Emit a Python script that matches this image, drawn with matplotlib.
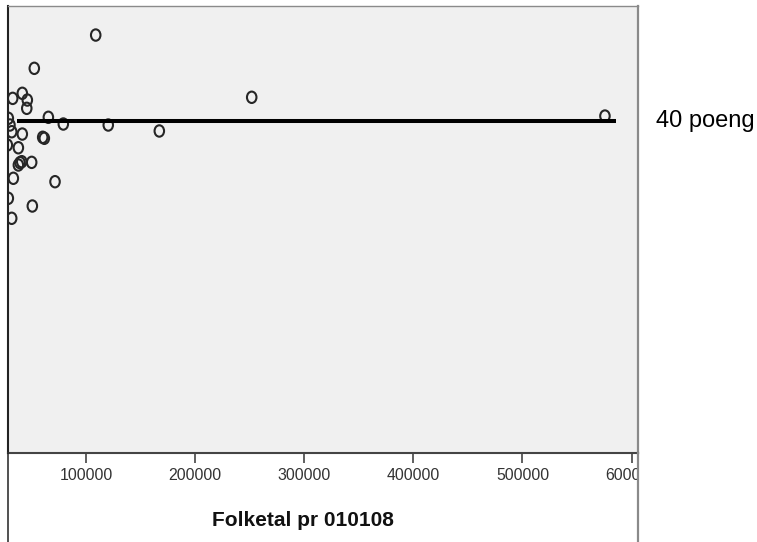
"""Scatter of score vs population (Folketal pr 010108) with a 40-point reference line."""
import matplotlib
matplotlib.use("Agg")
import matplotlib.pyplot as plt
from matplotlib.lines import Line2D
from matplotlib.path import Path
from matplotlib.transforms import Affine2D, Bbox, TransformedBbox, blended_transform_factory

# ---- data ------------------------------------------------------------------
POP = [108800, 52500, 32700, 41500, 46100, 45600, 65400, 79100, 120300, 167100,
       251800, 575600, 28700, 30200, 31800, 41500, 60200, 61700, 27800, 37900,
       37900, 41000, 39400, 50100, 33300, 71500, 28700, 50700, 31800]
SCORE = [50.36, 46.35, 42.73, 43.34, 42.53, 41.53, 40.45, 39.64, 39.52, 38.80,
         42.86, 40.60, 40.33, 39.52, 38.71, 38.43, 38.04, 37.92, 37.11, 36.78,
         34.70, 35.10, 34.98, 35.02, 33.10, 32.69, 30.69, 29.76, 28.28]
LINE_X = [36700, 585400]
LINE_Y = 40
LINE_LABEL = "40 poeng"
XTICKS = [100000, 200000, 300000, 400000, 500000, 600000]
XLABEL = "Folketal pr 010108"

W, H = 757, 542
NARROW = ["Liberation Sans Narrow", "Liberation Sans", "DejaVu Sans"]
REGULAR = ["Liberation Sans", "DejaVu Sans"]

fig = plt.figure(figsize=(W / 100, H / 100), dpi=100)
# plot area: x 8..638 px, y 6..453 px
ax = fig.add_axes([8 / W, (H - 453) / H, 630 / W, 447 / H])
ax.set_facecolor("#f0f0f0")

# slightly tall open circles, as in the (vertically stretched) original
ellipse = Path.unit_circle().transformed(Affine2D().scale(1.0, 1.2))
ax.scatter(POP, SCORE, marker=ellipse, s=8.2 ** 2, facecolors="none",
           edgecolors="#262626", linewidths=1.5, zorder=2)
ax.plot(LINE_X, [LINE_Y, LINE_Y], color="black", lw=2.9, zorder=3,
        solid_capstyle="butt")

ax.set_xlim(28400, 605900)
ax.set_ylim(0, 53.86)
ax.set_yticks([])
ax.set_xticks(XTICKS)
ax.set_xticklabels([str(t) for t in XTICKS], family=NARROW, fontsize=11.4,
                   color="#333333")
ax.tick_params(axis="x", length=7, width=1.2, color="#444444", pad=4)

ax.set_xlabel(XLABEL, family=NARROW, fontsize=15, fontweight="bold",
              color="#111111", va="baseline")
ax.xaxis.set_label_coords((303 - 8) / 630, (453 - 526) / 447)

trans = blended_transform_factory(ax.transAxes, ax.transData)
ax.text(1 + (656 - 638) / 630, LINE_Y, LINE_LABEL, transform=trans,
        family=REGULAR, fontsize=17, va="center", ha="left", clip_on=False)

ax.spines["left"].set_color("#222222")
ax.spines["left"].set_linewidth(1.5)
ax.spines["bottom"].set_color("#444444")
ax.spines["bottom"].set_linewidth(1.5)
ax.spines["top"].set_color("#8a8a8a")
ax.spines["top"].set_linewidth(1.0)
ax.spines["right"].set_color("#8a8a8a")
ax.spines["right"].set_linewidth(1.6)

# outer chart frame continues below the plot area
fig.add_artist(Line2D([8 / W, 8 / W], [0, (H - 453) / H], transform=fig.transFigure,
                      color="#222222", lw=1.1))
fig.add_artist(Line2D([638 / W, 638 / W], [0, (H - 453) / H], transform=fig.transFigure,
                      color="#8a8a8a", lw=1.6))

# the last tick label is cut off at the frame edge
clip = TransformedBbox(Bbox([[0, 0], [638 / W, 1]]), fig.transFigure)
for lab in ax.get_xticklabels():
    lab.set_clip_box(clip)
    lab.set_clip_on(True)

fig.savefig("out.png", dpi=100)
